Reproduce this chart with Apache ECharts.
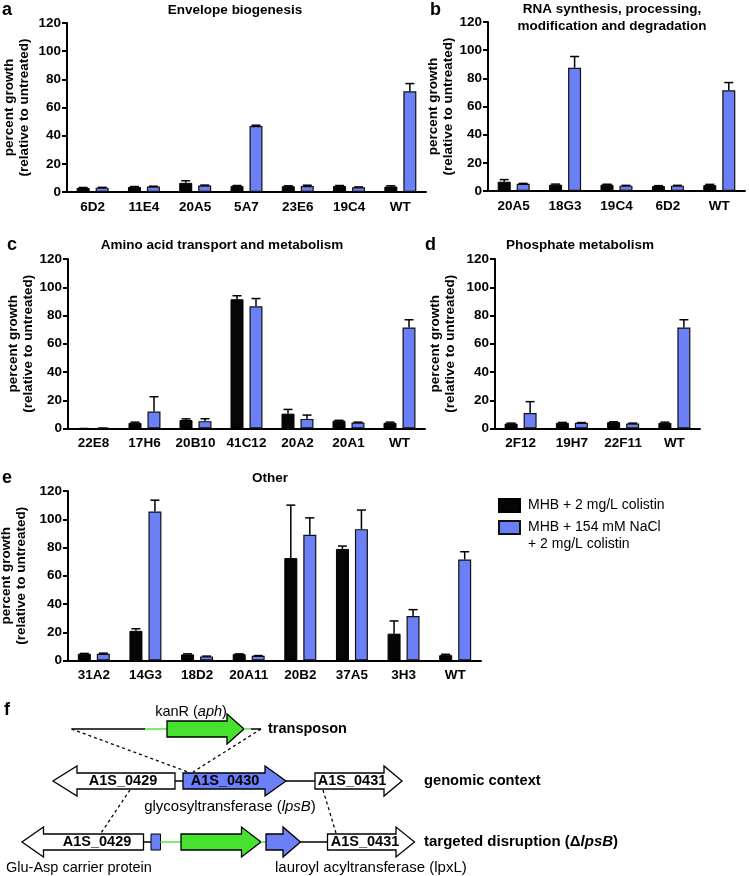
<!DOCTYPE html>
<html><head><meta charset="utf-8">
<script src="https://cdn.jsdelivr.net/npm/echarts@6/dist/echarts.min.js"></script>
<style>html,body{margin:0;padding:0;background:#fff}#c{width:750px;height:876px}</style>
</head><body><div id="c"></div>
<script>
// ---------------- data ----------------
const seriesNames = ['MHB + 2 mg/L colistin', 'MHB + 154 mM NaCl + 2 mg/L colistin'];
const panelTitles = ['Envelope biogenesis', 'RNA synthesis, processing,\nmodification and degradation',
  'Amino acid transport and metabolism', 'Phosphate metabolism', 'Other'];
const panelLetters = ['a', 'b', 'c', 'd', 'e'];
const yTicks = [0, 20, 40, 60, 80, 100, 120];

const catsA = ['6D2', '11E4', '20A5', '5A7', '23E6', '19C4', 'WT'];
const colA = [2.9, 3.6, 6.5, 4.3, 4.1, 4.3, 3.9];
const colAerr = [0.3, 0.3, 1.5, 0.3, 0.3, 0.3, 0.5];
const naclA = [3.1, 3.9, 4.6, 46.8, 4.3, 3.4, 71.5];
const naclAerr = [0.2, 0.2, 0.3, 0.6, 0.5, 0.2, 5.5];

const catsB = ['20A5', '18G3', '19C4', '6D2', 'WT'];
const colB = [6.6, 4.5, 4.5, 3.5, 4.2];
const colBerr = [1.5, 0.4, 0.3, 0.3, 0.5];
const naclB = [5.2, 87.5, 3.8, 3.8, 71.5];
const naclBerr = [0.2, 8, 0.2, 0.2, 5.5];

const catsC = ['22E8', '17H6', '20B10', '41C12', '20A2', '20A1', 'WT'];
const colC = [0, 4, 6, 91.5, 10.5, 5.5, 4];
const colCerr = [0, 0.5, 0.8, 2.5, 3, 0.3, 0.5];
const naclC = [0.3, 12, 5.2, 86.5, 6.8, 4.3, 71.5];
const naclCerr = [0, 10.5, 1.7, 5.5, 2.7, 0.2, 5.5];

const catsD = ['2F12', '19H7', '22F11', 'WT'];
const colD = [3.5, 4, 4.5, 4];
const colDerr = [0.3, 0.3, 0.3, 0.5];
const naclD = [11, 4, 3.5, 71.5];
const naclDerr = [8, 0.2, 0.3, 5.5];

const catsE = ['31A2', '14G3', '18D2', '20A11', '20B2', '37A5', '3H3', 'WT'];
const colE = [4.8, 21, 4.3, 4.5, 72.5, 79, 19, 3.8];
const colEerr = [0.2, 1.5, 0.4, 0.2, 37.5, 2, 9, 0.6];
const naclE = [4.8, 105.5, 2.9, 3.3, 89, 93, 31.5, 71.5];
const naclEerr = [0.4, 8, 0.2, 0.2, 12, 13.5, 4.5, 5.5];

// ---------------- style / layout ----------------
const FONT = '"Liberation Sans", Arial, Helvetica, sans-serif';
const BLUE = '#6b7ff6';
const GREEN = '#46e22e';
const GREEN_L = '#86e874';
const BAR_W = 13, BAR_OFF = 9.5;

const panels = [
  {cats: catsA, c: colA, ce: colAerr, n: naclA, ne: naclAerr, grid: {left: 67, top: 23, width: 359, height: 169}, gap: 35,
    title: {x: 235, y: 10}, letter: {x: 2, y: 10}},
  {cats: catsB, c: colB, ce: colBerr, n: naclB, ne: naclBerr, grid: {left: 488, top: 22, width: 257, height: 169}, gap: 26,
    title: {x: 612, y: 18}, letter: {x: 430, y: 10}},
  {cats: catsC, c: colC, ce: colCerr, n: naclC, ne: naclCerr, grid: {left: 68, top: 259, width: 357, height: 169.5}, gap: 30,
    title: {x: 222, y: 245}, letter: {x: 7, y: 245}},
  {cats: catsD, c: colD, ce: colDerr, n: naclD, ne: naclDerr, grid: {left: 495, top: 259, width: 205, height: 169.5}, gap: 37,
    title: {x: 580, y: 245}, letter: {x: 425, y: 245}},
  {cats: catsE, c: colE, ce: colEerr, n: naclE, ne: naclEerr, grid: {left: 68, top: 491, width: 413, height: 169.5}, gap: 39,
    title: {x: 270, y: 478}, letter: {x: 2, y: 478}}
];

const grids = [], xAxes = [], yAxes = [], series = [], graphics = [];

function errRender(side) {
  return function (params, api) {
    const i = api.value(0), v = api.value(1), e = api.value(2);
    const base = api.coord([i, v]);
    const top = api.coord([i, v + e]);
    const x = base[0] + side * BAR_OFF;
    return {type: 'group', children: [
      {type: 'line', shape: {x1: x, y1: base[1], x2: x, y2: top[1]}, style: {stroke: '#000', lineWidth: 1.5}},
      {type: 'line', shape: {x1: x - 4.5, y1: top[1], x2: x + 4.5, y2: top[1]}, style: {stroke: '#000', lineWidth: 1.5}}
    ]};
  };
}

panels.forEach((p, k) => {
  grids.push(Object.assign({containLabel: false, outerBoundsMode: 'none'}, p.grid));
  xAxes.push({
    type: 'category', gridIndex: k, data: p.cats,
    axisLine: {lineStyle: {color: '#000', width: 2}},
    axisTick: {alignWithLabel: true, length: 5, lineStyle: {color: '#000', width: 2}},
    axisLabel: {interval: 0, margin: 8, color: '#000', fontFamily: FONT, fontWeight: 'bold', fontSize: 13.5}
  });
  yAxes.push({
    type: 'value', gridIndex: k, min: yTicks[0], max: yTicks[yTicks.length - 1], interval: 20,
    splitLine: {show: false},
    axisLine: {show: true, lineStyle: {color: '#000', width: 2}},
    axisTick: {show: true, length: 5, lineStyle: {color: '#000', width: 2}},
    axisLabel: {margin: 6, color: '#000', fontFamily: FONT, fontWeight: 'bold', fontSize: 13.5},
    name: 'percent growth\n(relative to untreated)', nameLocation: 'middle', nameGap: p.gap, nameRotate: 90,
    nameTextStyle: {fontFamily: FONT, fontWeight: 'bold', fontSize: 13.5, lineHeight: 15, color: '#000'}
  });
  series.push({
    name: seriesNames[0], type: 'bar', xAxisIndex: k, yAxisIndex: k, data: p.c,
    barWidth: BAR_W, barGap: '46%', itemStyle: {color: '#050505', borderColor: '#000', borderWidth: 1}, silent: true
  });
  series.push({
    name: seriesNames[1], type: 'bar', xAxisIndex: k, yAxisIndex: k, data: p.n,
    barWidth: BAR_W, barGap: '46%', itemStyle: {color: BLUE, borderColor: '#111', borderWidth: 1.2}, silent: true
  });
  series.push({
    type: 'custom', xAxisIndex: k, yAxisIndex: k, z: 5, silent: true,
    renderItem: errRender(-1), encode: {x: 0, y: 1},
    data: p.c.map((v, i) => [i, v, p.ce[i]])
  });
  series.push({
    type: 'custom', xAxisIndex: k, yAxisIndex: k, z: 5, silent: true,
    renderItem: errRender(1), encode: {x: 0, y: 1},
    data: p.n.map((v, i) => [i, v, p.ne[i]])
  });
  graphics.push({type: 'text', x: p.title.x, y: p.title.y, style: {text: panelTitles[k], fontFamily: FONT,
    fontWeight: 'bold', fontSize: 13.5, lineHeight: 17, fill: '#000', align: 'center', verticalAlign: 'middle'}});
  graphics.push({type: 'text', x: p.letter.x, y: p.letter.y, style: {text: panelLetters[k], fontFamily: FONT,
    fontWeight: 'bold', fontSize: 18, fill: '#000', align: 'left', verticalAlign: 'middle'}});
});

// ---------------- panel f schematic ----------------
function rArrow(x0, xb, xt, y, fill) {
  return {type: 'polygon', shape: {points: [[x0, y - 8], [xb, y - 8], [xb, y - 15], [xt, y], [xb, y + 15], [xb, y + 8], [x0, y + 8]]},
    style: {fill: fill, stroke: '#000', lineWidth: 1.3}};
}
function lArrow(xt, xb, x1, y, fill) {
  return {type: 'polygon', shape: {points: [[x1, y - 8], [xb, y - 8], [xb, y - 15], [xt, y], [xb, y + 15], [xb, y + 8], [x1, y + 8]]},
    style: {fill: fill, stroke: '#000', lineWidth: 1.3}};
}
function hLine(x1, x2, y, color, w) {
  return {type: 'line', shape: {x1: x1, y1: y, x2: x2, y2: y}, style: {stroke: color, lineWidth: w || 1.5}};
}
function dLine(x1, y1, x2, y2) {
  return {type: 'line', shape: {x1: x1, y1: y1, x2: x2, y2: y2}, style: {stroke: '#000', lineWidth: 1.3, lineDash: [3, 3]}};
}
function txt(x, y, text, opt) {
  const fs = (opt && opt.fontSize) || 15;
  return {type: 'text', x: x, y: y, z: 10, style: Object.assign({text: text, fontFamily: FONT, fontSize: 15, fill: '#000',
    align: 'left', verticalAlign: 'middle', rich: {
      i: {fontStyle: 'italic', fontFamily: FONT, fontSize: fs},
      bi: {fontStyle: 'italic', fontWeight: 'bold', fontFamily: FONT, fontSize: fs},
      b: {fontWeight: 'bold', fontFamily: FONT, fontSize: fs}
    }}, opt || {})};
}
const y1 = 729, y2 = 781, y3 = 842;
graphics.push(
  txt(4, 710, 'f', {fontWeight: 'bold', fontSize: 18}),
  // transposon
  dLine(71.5, y1, 188, 772), dLine(261, y1, 193, 772),
  hLine(71.5, 145, y1, '#000'), hLine(145, 168, y1, GREEN_L, 2),
  rArrow(167, 227, 244, y1, GREEN),
  hLine(244, 251, y1, GREEN_L, 2), hLine(251, 261, y1, '#000'),
  txt(191, 712, 'kanR ({i|aph})', {align: 'center', fontSize: 14.5}),
  txt(268, y1, 'transposon', {fontWeight: 'bold', fontSize: 14.5}),
  // genomic context
  hLine(175, 183, y2, '#000'), hLine(286, 315, y2, '#000'),
  lArrow(53, 77, 175, y2, '#fff'),
  rArrow(183, 265, 286, y2, BLUE),
  rArrow(315, 384, 402, y2, '#fff'),
  txt(123, y2, 'A1S_0429', {align: 'center', fontWeight: 'bold', fontSize: 14.5}),
  txt(225, y2, 'A1S_0430', {align: 'center', fontWeight: 'bold', fontSize: 14.5}),
  txt(352, y2, 'A1S_0431', {align: 'center', fontWeight: 'bold', fontSize: 14.5}),
  txt(424, y2, 'genomic context', {fontWeight: 'bold', fontSize: 14.7}),
  txt(230, 807, 'glycosyltransferase ({i|lpsB})', {align: 'center', fontSize: 15}),
  dLine(130, 790, 101, 833), dLine(323, 790, 336, 833),
  // targeted disruption
  hLine(143, 151, y3, '#000'),
  {type: 'rect', shape: {x: 151, y: y3 - 8, width: 9.5, height: 16}, style: {fill: BLUE, stroke: '#000', lineWidth: 1}},
  hLine(160.5, 182, y3, GREEN_L, 2),
  rArrow(181, 241.5, 261, y3, GREEN),
  hLine(261, 266, y3, GREEN_L, 2),
  rArrow(266, 283, 300.5, y3, BLUE),
  hLine(300.5, 327.5, y3, '#000'),
  lArrow(22, 43.5, 143.5, y3, '#fff'),
  rArrow(327.5, 396, 414.5, y3, '#fff'),
  txt(97, y3, 'A1S_0429', {align: 'center', fontWeight: 'bold', fontSize: 14.5}),
  txt(365, y3, 'A1S_0431', {align: 'center', fontWeight: 'bold', fontSize: 14.5}),
  txt(424, y3, '{b|targeted disruption (\u0394}{bi|lpsB}{b|)}', {fontWeight: 'bold', fontSize: 15}),
  txt(6, 868, 'Glu-Asp carrier protein', {fontSize: 14.5}),
  txt(275, 868, 'lauroyl acyltransferase (lpxL)', {fontSize: 15}),
  // second line of the legend entry
  txt(528, 544, '+ 2 mg/L colistin', {fontSize: 14})
);

const chart = echarts.init(document.getElementById('c'), null, {renderer: 'canvas'});
chart.setOption({
  animation: false,
  backgroundColor: '#fff',
  grid: grids,
  xAxis: xAxes,
  yAxis: yAxes,
  series: series,
  legend: [
    {data: [seriesNames[0]], left: 498, top: 497, padding: 0, orient: 'vertical', selectedMode: false,
      icon: 'rect', itemWidth: 21, itemHeight: 13,
      textStyle: {fontFamily: FONT, fontSize: 14, color: '#000', lineHeight: 17, padding: [0, 0, 0, 3]}},
    {data: [seriesNames[1]], left: 498, top: 519, padding: 0, orient: 'vertical', selectedMode: false,
      icon: 'rect', itemWidth: 21, itemHeight: 13,
      formatter: function (name) { return name.split(' + 2 mg')[0]; },
      textStyle: {fontFamily: FONT, fontSize: 14, color: '#000', lineHeight: 17, padding: [0, 0, 0, 3]}}
  ],
  graphic: {elements: graphics}
});
</script>
</body></html>
